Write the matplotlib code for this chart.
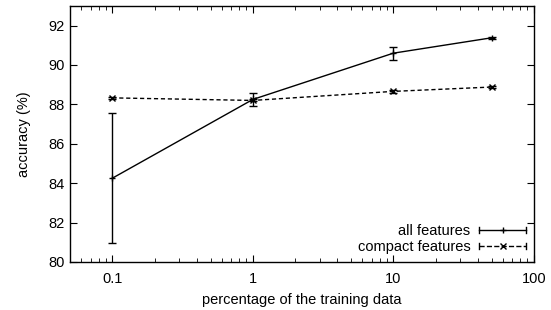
import numpy as np
import matplotlib.pyplot as plt
from matplotlib.ticker import FixedLocator, NullFormatter
from matplotlib.lines import Line2D
from matplotlib.legend_handler import HandlerBase
from matplotlib.container import ErrorbarContainer

plt.rcParams['font.family'] = ['Liberation Sans', 'DejaVu Sans']
plt.rcParams['font.size'] = 10.5

# ================== DATA ==================
pct = [0.1, 1, 10, 50]
all_acc = [84.25, 88.25, 90.6, 91.38]
all_err = [3.3, 0.35, 0.33, 0.05]
compact_acc = [88.33, 88.2, 88.66, 88.88]
compact_err = [0.06, 0.05, 0.06, 0.05]

xticks = [0.1, 1, 10, 100]
xticklabels = ["0.1", "1", "10", "100"]
yticks = [80, 82, 84, 86, 88, 90, 92]


# gnuplot-style key sample: horizontal line, caps at both ends, marker mid
class HandlerCapped(HandlerBase):
    def create_artists(self, legend, orig_handle, xdescent, ydescent,
                       width, height, fontsize, trans):
        src = orig_handle.lines[0]
        y = height / 2 - ydescent
        x0, x1 = -xdescent, width - xdescent
        h = height * 0.3
        arts = [
            Line2D([x0, x1], [y, y], color='black', lw=1,
                   ls=src.get_linestyle()),
            Line2D([(x0 + x1) / 2], [y], color='black', ls='none',
                   marker=src.get_marker(), ms=5, mew=1),
            Line2D([x0, x0], [y - h, y + h], color='black', lw=1),
            Line2D([x1, x1], [y - h, y + h], color='black', lw=1),
        ]
        for a in arts:
            a.set_transform(trans)
        return arts


# ================== PLOT ==================
fig = plt.figure(figsize=(5.51, 3.10), dpi=100)
ax = fig.add_axes([0.127, 0.155, 0.842, 0.826])

ax.errorbar(pct, all_acc, yerr=all_err, color='black', lw=1, ls='-',
            marker='+', ms=5, mew=1, capsize=3, elinewidth=1,
            label="all features")
ax.errorbar(pct, compact_acc, yerr=compact_err, color='black', lw=1,
            ls=(0, (3, 2)), marker='x', ms=5, mew=1, capsize=3,
            elinewidth=1, label="compact features")

ax.set_xscale('log')
ax.set_xlim(0.05, 100)
ax.set_ylim(80, 93)
ax.xaxis.set_major_locator(FixedLocator(xticks))
ax.set_xticklabels(xticklabels)
ax.xaxis.set_minor_locator(FixedLocator(
    [m * 10.0**e for e in range(-2, 2) for m in range(2, 10)]))
ax.xaxis.set_minor_formatter(NullFormatter())
ax.set_yticks(yticks)

ax.tick_params(which='both', direction='in', top=True, right=True,
               labelsize=10.5)
ax.tick_params(which='major', length=5)
ax.tick_params(which='minor', length=3)
ax.tick_params(axis='x', pad=7)
for s in ax.spines.values():
    s.set_linewidth(1)

ax.set_xlabel("percentage of the training data", labelpad=5)
ax.set_ylabel("accuracy (%)", labelpad=13)

handles, labels = ax.get_legend_handles_labels()
ax.legend(handles, labels, loc='lower right', frameon=False,
          markerfirst=False, handlelength=3.2, handletextpad=0.6,
          borderaxespad=0.15, labelspacing=0.15, fontsize=10.5,
          handler_map={ErrorbarContainer: HandlerCapped()})

fig.savefig("out.png", dpi=100)
